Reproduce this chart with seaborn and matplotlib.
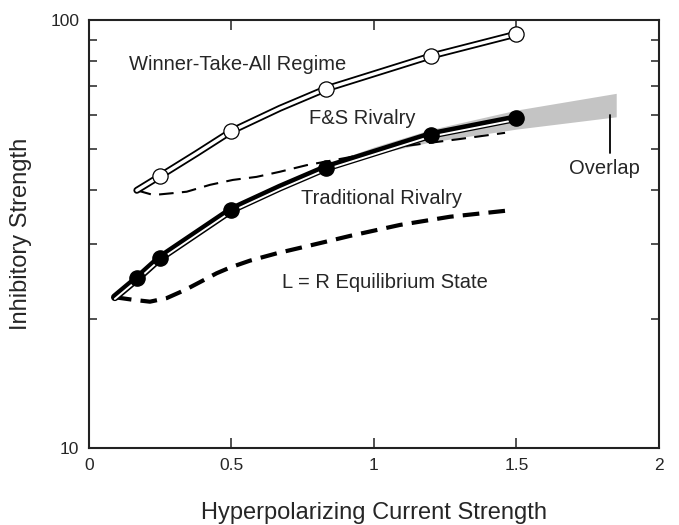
import numpy as np
import matplotlib
matplotlib.use("Agg")
import matplotlib.pyplot as plt
import seaborn as sns

# ---- data ----
wta_x = [0.168, 0.25, 0.378, 0.5, 0.67, 0.83, 1.2, 1.5]
wta_y = [40.0, 43.2, 48.8, 55.0, 62.2, 69.0, 82.4, 92.7]
wta_mx = [0.25, 0.5, 0.83, 1.2, 1.5]
wta_my = [43.2, 55.0, 69.0, 82.4, 92.7]

fs_dash_x = [0.168, 0.226, 0.295, 0.343, 0.425, 0.505, 0.588, 0.67, 0.764, 0.9, 1.091, 1.3, 1.46]
fs_dash_y = [40.0, 39.0, 39.4, 39.7, 41.2, 42.3, 43.0, 44.2, 45.8, 47.6, 50.6, 52.7, 54.5]

trad_x = [0.091, 0.17, 0.25, 0.5, 0.67, 0.83, 1.2, 1.5]
trad_y = [22.5, 24.9, 27.8, 36.0, 40.6, 45.1, 53.9, 59.0]
trad_mx = [0.17, 0.25, 0.5, 0.83, 1.2, 1.5]
trad_my = [24.9, 27.8, 36.0, 45.1, 53.9, 59.0]

eq_x = [0.091, 0.154, 0.214, 0.273, 0.337, 0.389, 0.448, 0.495, 0.565, 0.659,
        0.764, 0.846, 0.916, 1.091, 1.267, 1.49]
eq_y = [22.5, 22.2, 21.97, 22.4, 23.4, 24.4, 25.6, 26.4, 27.4, 28.5,
        29.6, 30.5, 31.3, 33.2, 34.7, 36.0]

band_x = [0.83, 1.0, 1.2, 1.5, 1.85]
band_top = [46.0, 50.5, 55.5, 61.6, 67.4]
band_bot = [45.0, 48.5, 51.9, 55.6, 59.4]

sns.set_style("ticks")
plt.rcParams['font.family'] = ['Liberation Sans', 'DejaVu Sans']

fig = plt.figure(figsize=(6.79, 5.25), dpi=100)
ax = fig.add_axes([0.131, 0.1467, 0.8395, 0.8152])
ax.set_yscale("log")

# gray overlap band
ax.fill_between(band_x, band_bot, band_top, color="#c4c4c4", lw=0, zorder=1)

# dashed boundaries
sns.lineplot(x=fs_dash_x, y=fs_dash_y, ax=ax, color="black", lw=1.5,
             sort=False, zorder=2)
ax.lines[-1].set_dashes([7, 4])
sns.lineplot(x=eq_x, y=eq_y, ax=ax, color="black", lw=3.0,
             sort=False, zorder=2)
ax.lines[-1].set_dashes([4, 2.2])

# double lines: winner-take-all
sns.lineplot(x=wta_x, y=wta_y, ax=ax, color="black", lw=5.0, sort=False, zorder=3)
sns.lineplot(x=wta_x, y=wta_y, ax=ax, color="white", lw=2.4, sort=False, zorder=4)
sns.scatterplot(x=wta_mx, y=wta_my, ax=ax, s=120, color="white",
                edgecolor="black", linewidth=0.9, zorder=5)

# double lines: traditional rivalry
sns.lineplot(x=trad_x, y=trad_y, ax=ax, color="black", lw=5.6, sort=False, zorder=3)
sns.lineplot(x=trad_x, y=np.array(trad_y) * 0.991, ax=ax, color="white",
             lw=1.4, sort=False, zorder=4)
sns.scatterplot(x=trad_mx, y=trad_my, ax=ax, s=120, color="black",
                edgecolor="black", linewidth=1.0, zorder=5)

# overlap pointer
ax.plot([1.828, 1.828], [60.0, 48.8], color="black", lw=1.3, zorder=2)

# labels
fsz = 14.5
ax.text(0.52, 78.5, "Winner-Take-All Regime", fontsize=fsz, ha="center", va="center")
ax.text(0.958, 59.0, "F&S Rivalry", fontsize=fsz, ha="center", va="center")
ax.text(1.028, 38.2, "Traditional Rivalry", fontsize=fsz, ha="center", va="center")
ax.text(1.039, 24.3, "L = R Equilibrium State", fontsize=fsz, ha="center", va="center")
ax.text(1.81, 45.1, "Overlap", fontsize=fsz, ha="center", va="center")

ax.set_xlim(0, 2)
ax.set_ylim(10, 100)
ax.set_xticks([0, 0.5, 1, 1.5, 2])
ax.set_xticklabels(["0", "0.5", "1", "1.5", "2"])
ax.set_yticks([10, 100])
ax.set_yticklabels(["10", "100"])
ax.yaxis.set_minor_locator(matplotlib.ticker.LogLocator(base=10, subs=np.arange(2, 10)))
ax.yaxis.set_minor_formatter(matplotlib.ticker.NullFormatter())
ax.tick_params(axis="both", which="major", direction="in", length=7, width=1.1,
               top=True, right=True, labelsize=12.5, pad=7, color="#222222")
ax.tick_params(axis="y", which="minor", direction="in", length=6, width=1.1,
               left=True, right=True, color="#222222")
for s in ax.spines.values():
    s.set_linewidth(1.5)
    s.set_color("#222222")

ax.set_xlabel("Hyperpolarizing Current Strength", fontsize=17, labelpad=21)
ax.set_ylabel("Inhibitory Strength", fontsize=17, labelpad=13)

fig.savefig("out.png", dpi=100)
